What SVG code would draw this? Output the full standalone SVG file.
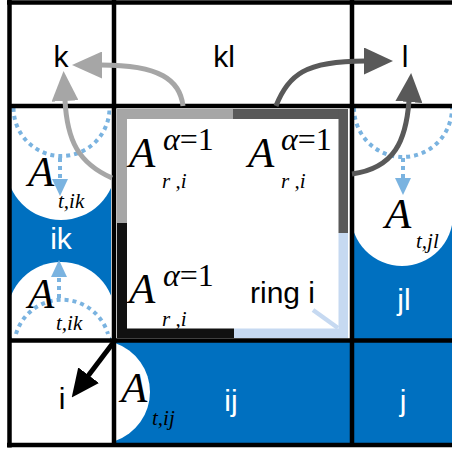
<svg xmlns="http://www.w3.org/2000/svg" width="452" height="451" viewBox="0 0 452 451">
<style>
.blue{fill:#0070c0}
.wh{fill:#fff}
.sans{font-family:"Liberation Sans",Arial,sans-serif;font-size:30px}
.lw{fill:#fff}
.lk{fill:#000}
.A{font-family:"Liberation Serif","Times New Roman",serif;font-style:italic;font-size:43px;fill:#000}
.sup{font-family:"Liberation Serif","Times New Roman",serif;font-size:32px;fill:#000}
.sub{font-family:"Liberation Serif","Times New Roman",serif;font-style:italic;font-size:21px;fill:#000}
.grid{stroke:#000;stroke-width:4.5;fill:none}
.dot{fill:none;stroke:#7ab3e0;stroke-width:4;stroke-dasharray:4 4}
.conn{fill:none;stroke-width:5}
</style>
<defs>
<clipPath id="cIk"><rect x="11" y="108" width="100" height="231"/></clipPath>
<clipPath id="cJl"><rect x="353" y="108" width="99" height="231"/></clipPath>
<marker id="mGray" markerUnits="userSpaceOnUse" viewBox="0 0 30 27" refX="1" refY="13.5" markerWidth="30" markerHeight="27" orient="auto"><path d="M0,0 L30,13.5 L0,27 z" fill="#a6a6a6"/></marker>
<marker id="mDark" markerUnits="userSpaceOnUse" viewBox="0 0 29 27" refX="1" refY="13.5" markerWidth="29" markerHeight="27" orient="auto"><path d="M0,0 L29,13.5 L0,27 z" fill="#595959"/></marker>
<marker id="mBlack" markerUnits="userSpaceOnUse" viewBox="0 0 28 26" refX="1" refY="13" markerWidth="28" markerHeight="26" orient="auto"><path d="M0,0 L28,13 L0,26 z" fill="#000"/></marker>
<marker id="mDot" markerUnits="userSpaceOnUse" viewBox="0 0 17 16" refX="0" refY="8" markerWidth="17" markerHeight="16" orient="auto"><path d="M0,0 L17,8 L0,16 z" fill="#7ab3e0"/></marker>
</defs>
<rect x="0" y="0" width="452" height="451" fill="#fff"/>

<g id="cell-k">
<text class="sans lk" x="61" y="67" text-anchor="middle">k</text>
</g>
<g id="cell-kl">
<text class="sans lk" x="224" y="67" text-anchor="middle">kl</text>
</g>
<g id="cell-l">
<text class="sans lk" x="405" y="67" text-anchor="middle">l</text>
</g>

<g id="cell-ik">
<g clip-path="url(#cIk)">
<rect class="blue" x="11" y="165" width="100" height="175"/>
<circle class="wh" cx="61" cy="165" r="55"/>
<circle class="wh" cx="61" cy="316" r="54"/>
<path class="dot" d="M13.5,108 A48,48 0 0,0 109.5,108"/>
<path class="dot" d="M16,334 A48,48 0 0,1 108,334"/>
</g>
<path class="dot" d="M60,158 L60,179" marker-end="url(#mDot)"/>
<path class="dot" d="M59,298 L59,277" marker-end="url(#mDot)"/>
<text class="sans lw" x="61" y="249" text-anchor="middle">ik</text>
<text class="A" x="28" y="186">A</text>
<text class="sub" x="58" y="208">t,ik</text>
<text class="A" x="28" y="308">A</text>
<text class="sub" x="56" y="330">t,ik</text>
</g>

<g id="cell-jl">
<g clip-path="url(#cJl)">
<rect class="blue" x="353" y="215" width="99" height="125"/>
<circle class="wh" cx="402" cy="215" r="51"/>
<path class="dot" d="M354,108 A49,49 0 0,0 452,108"/>
</g>
<path class="dot" d="M403,158 L403,178" marker-end="url(#mDot)"/>
<text class="sans lw" x="404" y="310" text-anchor="middle">jl</text>
<text class="A" x="385" y="228">A</text>
<text class="sub" x="416" y="248">t,jl</text>
</g>

<g id="cell-i">
<text class="sans lk" x="62" y="409" text-anchor="middle">i</text>
</g>

<g id="cell-ij">
<rect class="blue" x="115" y="342" width="235" height="101"/>
<path class="wh" d="M115,343 A51.8,51.8 0 0,1 115,441 Z"/>
<text class="sans lw" x="231" y="411" text-anchor="middle">ij</text>
<text class="A" x="121" y="402">A</text>
<text class="sub" x="152" y="425">t,ij</text>
</g>

<g id="cell-j">
<rect class="blue" x="353" y="342" width="99" height="101"/>
<text class="sans lw" x="403" y="411" text-anchor="middle">j</text>
</g>

<g id="ring-i">
<rect x="117" y="109" width="116" height="10" fill="#a6a6a6"/>
<rect x="233" y="109" width="115" height="10" fill="#595959"/>
<rect x="338.5" y="109" width="9.5" height="124" fill="#595959"/>
<rect x="338.5" y="233" width="9.5" height="105" fill="#c6d9f1"/>
<rect x="234" y="328.5" width="114" height="9.5" fill="#c6d9f1"/>
<rect x="117" y="328.5" width="117" height="9.5" fill="#111"/>
<rect x="117" y="223" width="10" height="115" fill="#111"/>
<rect x="117" y="109" width="10" height="114" fill="#a6a6a6"/>
<line x1="313" y1="310" x2="338" y2="328" stroke="#c6d9f1" stroke-width="4.5"/>
<text class="sans lk" x="250" y="303">ring i</text>
<text class="A" x="129" y="167">A</text>
<text class="sup" x="163" y="150"><tspan font-style="italic">α</tspan>=1</text>
<text class="sub" x="162" y="188">r ,i</text>
<text class="A" x="248" y="167">A</text>
<text class="sup" x="281" y="150"><tspan font-style="italic">α</tspan>=1</text>
<text class="sub" x="281" y="188">r ,i</text>
<text class="A" x="129" y="303">A</text>
<text class="sup" x="163" y="286"><tspan font-style="italic">α</tspan>=1</text>
<text class="sub" x="162" y="326">r ,i</text>
</g>

<g id="grid">
<line class="grid" x1="7" y1="2.5" x2="452" y2="2.5"/>
<line class="grid" x1="9.5" y1="0" x2="9.5" y2="447.5"/>
<line class="grid" x1="7" y1="445" x2="452" y2="445"/>
<line class="grid" x1="9.5" y1="106" x2="452" y2="106"/>
<line class="grid" x1="9.5" y1="340.5" x2="452" y2="340.5"/>
<line class="grid" x1="114" y1="0" x2="114" y2="447"/>
<line class="grid" x1="352" y1="0" x2="352" y2="447"/>
</g>

<g id="connectors">
<path class="conn" stroke="#a6a6a6" d="M183,106 C180,80 160,65 101,65" marker-end="url(#mGray)"/>
<path class="conn" stroke="#a6a6a6" d="M112,178 C78,163 67,140 65,100" marker-end="url(#mGray)"/>
<path class="conn" stroke="#595959" d="M276,106 C288,75 305,61 365,61" marker-end="url(#mDark)"/>
<path class="conn" stroke="#595959" d="M352,174 C395,168 406,140 409,101" marker-end="url(#mDark)"/>
<path class="conn" stroke="#000" stroke-width="5.5" d="M116,339 L88,376" marker-end="url(#mBlack)"/>
</g>
</svg>
